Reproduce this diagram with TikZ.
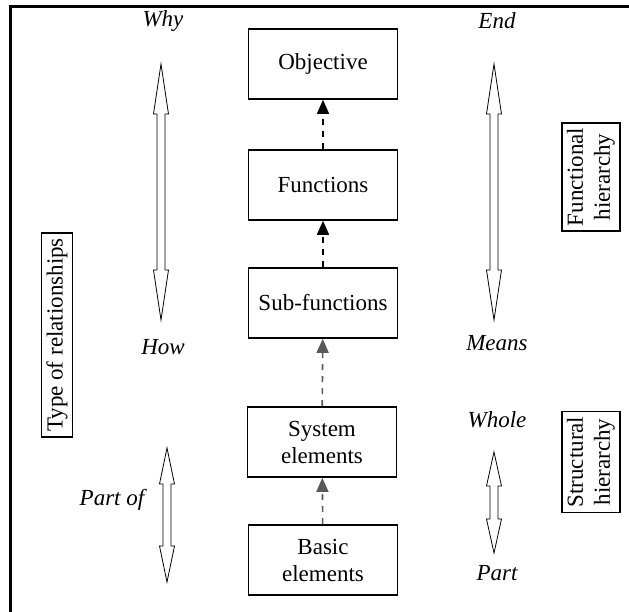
\documentclass[tikz,border=0pt]{standalone}
\usepackage{fontspec}
\setmainfont{Liberation Serif}
\usetikzlibrary{arrows.meta}

% hollow two-headed block arrow: x, top, bottom, head length
\newcommand\twoway[4]{%
  \draw[thin] (#1,#2) -- (#1+7.5,#2+#4) -- (#1+4,#2+#4) -- (#1+4,#3-#4)
    -- (#1+7.5,#3-#4) -- (#1,#3) -- (#1-7.5,#3-#4) -- (#1-4,#3-#4)
    -- (#1-4,#2+#4) -- (#1-7.5,#2+#4) -- cycle;}

\begin{document}
\begin{tikzpicture}[
  x=0.5pt, y=-0.5pt,
  font=\fontsize{11.5}{13.5}\selectfont,
  level/.style={draw, thick, minimum width=74.5pt, minimum height=35pt,
                align=center, inner sep=2pt},
  side/.style={draw, thick, align=center, rotate=90, inner sep=2.5pt},
  tag/.style={font=\fontsize{11.5}{13.5}\selectfont\itshape},
  up/.style={-{Triangle[length=7pt, width=6pt]}, dashed, thick},
  upg/.style={up, gray!70!black}
]
\useasboundingbox (0,0) rectangle (629,612);
\draw[line width=1.5pt] (11,612) -- (11,6) -- (629,6);

% levels of the hierarchy
\node[level] (obj) at (323,64) {Objective};
\node[level] (fun) at (323,185) {Functions};
\node[level] (sub) at (323,303) {Sub-functions};
\node[level] (sys) at (322,442) {System\\ elements};
\node[level] (bas) at (323,560) {Basic\\ elements};
\draw[up] (fun) -- (obj);
\draw[up] (sub) -- (fun);
\draw[upg] (sys) -- (sub);
\draw[upg] (bas) -- (sys);

% why / how
\node[tag] (why) at (163,21) {Why};
\node[tag] (how) at (163,347) {How};
\twoway{161}{64}{320}{50}
\node[tag] (end) at (497,21) {End};
\node[tag] (means) at (497,343) {Means};
\twoway{494}{64}{320}{50}

% part of / whole
\node[tag] (partof) at (112,500) {Part of};
\twoway{167}{448}{582}{36}
\node[tag] (whole) at (497,420) {Whole};
\node[tag] (part) at (497,573) {Part};
\twoway{494}{452}{553}{34}

% boxed captions
\node[side] (type) at (57,335) {Type of relationships};
\node[side] (fh) at (591,177) {Functional\\ hierarchy};
\node[side] (sh) at (591,462) {Structural\\ hierarchy};
\end{tikzpicture}
\end{document}
